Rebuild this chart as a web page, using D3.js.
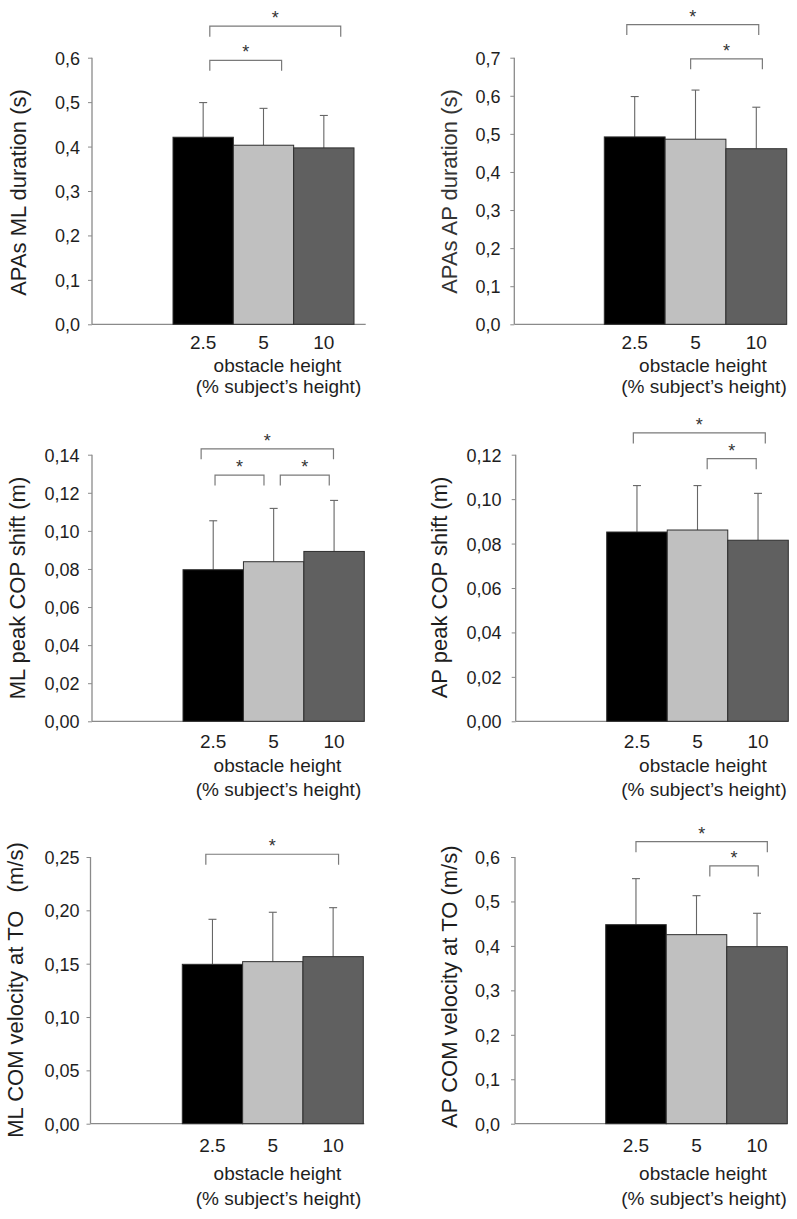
<!DOCTYPE html>
<html>
<head>
<meta charset="utf-8">
<script src="https://cdn.jsdelivr.net/npm/d3@7"></script>
<style>
  html, body { margin: 0; padding: 0; background: #fff; }
  svg { display: block; font-family: "Liberation Sans", Arial, sans-serif; }
</style>
</head>
<body>
<svg id="chart" width="797" height="1219"></svg>
<script>
// ---------- data ----------
const categories = ["2.5", "5", "10"];
const barColors = ["#000000", "#c0c0c0", "#606060"];
const xTitle1 = "obstacle height";
const xTitle2 = "(% subject\u2019s height)";

const apasMLMean = [0.421, 0.403, 0.397];
const apasMLSD   = [0.078, 0.083, 0.073];
const apasAPMean = [0.492, 0.486, 0.461];
const apasAPSD   = [0.106, 0.129, 0.109];
const mlCopMean  = [0.0796, 0.0838, 0.0892];
const mlCopSD    = [0.0257, 0.0280, 0.0268];
const apCopMean  = [0.0852, 0.0861, 0.0815];
const apCopSD    = [0.0209, 0.0200, 0.0211];
const mlVelMean  = [0.1494, 0.1519, 0.1566];
const mlVelSD    = [0.0422, 0.0463, 0.0459];
const apVelMean  = [0.4478, 0.4253, 0.3983];
const apVelSD    = [0.1035, 0.0877, 0.0751];

const yTitles = [
  "APAs ML duration (s)",
  "APAs AP duration (s)",
  "ML peak COP shift (m)",
  "AP peak COP shift (m)",
  "ML COM velocity at TO   (m/s)",
  "AP COM velocity at TO (m/s)"
];
const yMaxes = [0.6, 0.7, 0.14, 0.12, 0.25, 0.6];
const ySteps = [0.1, 0.1, 0.02, 0.02, 0.05, 0.1];
const yDecimals = [1, 1, 2, 2, 2, 1];

// significance brackets: endpoints in bar units (bar i spans i..i+1), level in data units
const brackets1 = [{x1: 0.61, x2: 2.78, y: 0.671}, {x1: 0.61, x2: 1.80, y: 0.594}];
const brackets2 = [{x1: 0.37, x2: 2.54, y: 0.787}, {x1: 1.42, x2: 2.60, y: 0.697}];
const brackets3 = [{x1: 0.30, x2: 2.49, y: 0.1431}, {x1: 0.53, x2: 1.34, y: 0.1293}, {x1: 1.61, x2: 2.42, y: 0.1293}];
const brackets4 = [{x1: 0.44, x2: 2.62, y: 0.1298}, {x1: 1.66, x2: 2.47, y: 0.1182}];
const brackets5 = [{x1: 0.39, x2: 2.59, y: 0.2526}];
const brackets6 = [{x1: 0.50, x2: 2.67, y: 0.6345}, {x1: 1.72, x2: 2.52, y: 0.5799}];

// ---------- layout ----------
const layouts = [
  {axisX: 92,    barStart: 173,   barEnd: 354,   axisEnd: 365.7, y0: 324.3,  yTop: 57.7, titleX: 26,    titleY: 192.5, labX: 80,    xLabY: [349, 371.5, 392.5], xTitleX: 277.5},
  {axisX: 514.3, barStart: 604.3, barEnd: 786.7, axisEnd: 786.7, y0: 324.3,  yTop: 57.7, titleX: 456.5, titleY: 191.5, labX: 500.5, xLabY: [349, 371.5, 392.5], xTitleX: 703},
  {axisX: 92,    barStart: 183,   barEnd: 364.3, axisEnd: 364.3, y0: 721.3,  yTop: 454.7, titleX: 24.5, titleY: 588,   labX: 79.5,  xLabY: [748, 771.7, 795.5], xTitleX: 277.5},
  {axisX: 515.7, barStart: 606.7, barEnd: 788.3, axisEnd: 788.3, y0: 721.3,  yTop: 454.7, titleX: 446.5, titleY: 587.5, labX: 501.5, xLabY: [748, 771.7, 795.5], xTitleX: 703},
  {axisX: 90.5,  barStart: 182.3, barEnd: 363.3, axisEnd: 364.3, y0: 1123.7, yTop: 857,  titleX: 22.5,  titleY: 990,   labX: 79.5,  xLabY: [1152, 1180, 1204.5], xTitleX: 277.5},
  {axisX: 515,   barStart: 605.7, barEnd: 787.3, axisEnd: 787.3, y0: 1123.7, yTop: 857,  titleX: 456.5, titleY: 986.7, labX: 500,   xLabY: [1152, 1180, 1204.5], xTitleX: 703}
];

const panels = [
  {mean: apasMLMean, sd: apasMLSD, brackets: brackets1},
  {mean: apasAPMean, sd: apasAPSD, brackets: brackets2},
  {mean: mlCopMean,  sd: mlCopSD,  brackets: brackets3},
  {mean: apCopMean,  sd: apCopSD,  brackets: brackets4},
  {mean: mlVelMean,  sd: mlVelSD,  brackets: brackets5},
  {mean: apVelMean,  sd: apVelSD,  brackets: brackets6}
];

const svg = d3.select("#chart");
const axisColor = "#8a8a8a";
const textColor = "#1e1e1e";

panels.forEach((p, i) => {
  const L = layouts[i];
  const g = svg.append("g");

  const y = d3.scaleLinear().domain([0, yMaxes[i]]).range([L.y0, L.yTop]);
  const x = d3.scaleLinear().domain([0, categories.length]).range([L.barStart, L.barEnd]);
  const band = d3.scaleBand().domain(categories).range([L.barStart, L.barEnd]).padding(0);

  // y axis
  const ticks = d3.range(0, yMaxes[i] + ySteps[i] / 2, ySteps[i]);
  const fmt = d3.format("." + yDecimals[i] + "f");
  const yAxis = d3.axisLeft(y).tickValues(ticks).tickSize(4).tickPadding(0)
    .tickFormat(d => fmt(d).replace(".", ","));
  const ya = g.append("g").attr("transform", `translate(${L.axisX},0)`).call(yAxis);
  ya.select(".domain").remove();
  ya.selectAll(".tick line").attr("stroke", axisColor).attr("stroke-width", 1);
  ya.selectAll(".tick text")
    .attr("x", L.labX - L.axisX)
    .attr("dy", "0.36em")
    .attr("fill", textColor)
    .style("font-size", "18px")
    .style("font-family", "'Liberation Sans', Arial, sans-serif");
  g.append("line")
    .attr("x1", L.axisX).attr("x2", L.axisX)
    .attr("y1", y(0)).attr("y2", y(yMaxes[i]))
    .attr("stroke", axisColor).attr("stroke-width", 1.3);

  // x axis line
  g.append("line")
    .attr("x1", L.axisX).attr("x2", L.axisEnd)
    .attr("y1", y(0)).attr("y2", y(0))
    .attr("stroke", axisColor).attr("stroke-width", 1.3);

  // error bars (drawn before bars so the lower part is hidden)
  const eg = g.append("g");
  categories.forEach((c, k) => {
    const cx = band(c) + band.bandwidth() / 2;
    eg.append("line")
      .attr("x1", cx).attr("x2", cx)
      .attr("y1", y(p.mean[k])).attr("y2", y(p.mean[k] + p.sd[k]))
      .attr("stroke", "#666").attr("stroke-width", 1.1);
    eg.append("line")
      .attr("x1", cx - 4).attr("x2", cx + 4)
      .attr("y1", y(p.mean[k] + p.sd[k])).attr("y2", y(p.mean[k] + p.sd[k]))
      .attr("stroke", "#666").attr("stroke-width", 1.1);
  });

  // bars
  g.append("g").selectAll("rect")
    .data(categories)
    .join("rect")
    .attr("x", c => band(c))
    .attr("width", band.bandwidth())
    .attr("y", (c, k) => y(p.mean[k]))
    .attr("height", (c, k) => y(0) - y(p.mean[k]))
    .attr("fill", (c, k) => barColors[k])
    .attr("stroke", "#2e2e2e")
    .attr("stroke-width", 1);

  // category labels
  g.append("g").selectAll("text")
    .data(categories)
    .join("text")
    .attr("x", c => band(c) + band.bandwidth() / 2)
    .attr("y", L.xLabY[0])
    .attr("text-anchor", "middle")
    .attr("fill", textColor)
    .style("font-size", "19px")
    .text(c => c);

  g.append("text")
    .attr("x", L.xTitleX).attr("y", L.xLabY[1])
    .attr("text-anchor", "middle").attr("fill", textColor)
    .style("font-size", "19px")
    .text(xTitle1);
  g.append("text")
    .attr("x", L.xTitleX + 1).attr("y", L.xLabY[2])
    .attr("text-anchor", "middle").attr("fill", textColor)
    .style("font-size", "19px")
    .text(xTitle2);

  // y title
  g.append("text")
    .attr("transform", `translate(${L.titleX},${L.titleY}) rotate(-90)`)
    .attr("text-anchor", "middle")
    .attr("fill", i === 1 ? "#333" : textColor)
    .style("font-size", "22px")
    .style("white-space", "pre")
    .text(yTitles[i]);

  // significance brackets
  const bg = g.append("g");
  p.brackets.forEach(b => {
    const x1 = x(b.x1), x2 = x(b.x2), by = y(b.y);
    bg.append("path")
      .attr("d", `M${x1},${by + 10.5}V${by}H${x2}V${by + 10.5}`)
      .attr("fill", "none")
      .attr("stroke", "#7a7a7a")
      .attr("stroke-width", 1.2);
    bg.append("text")
      .attr("x", (x1 + x2) / 2)
      .attr("y", by - 2)
      .attr("text-anchor", "middle")
      .attr("fill", "#333")
      .style("font-size", "18px")
      .text("*");
  });
});
</script>
</body>
</html>
